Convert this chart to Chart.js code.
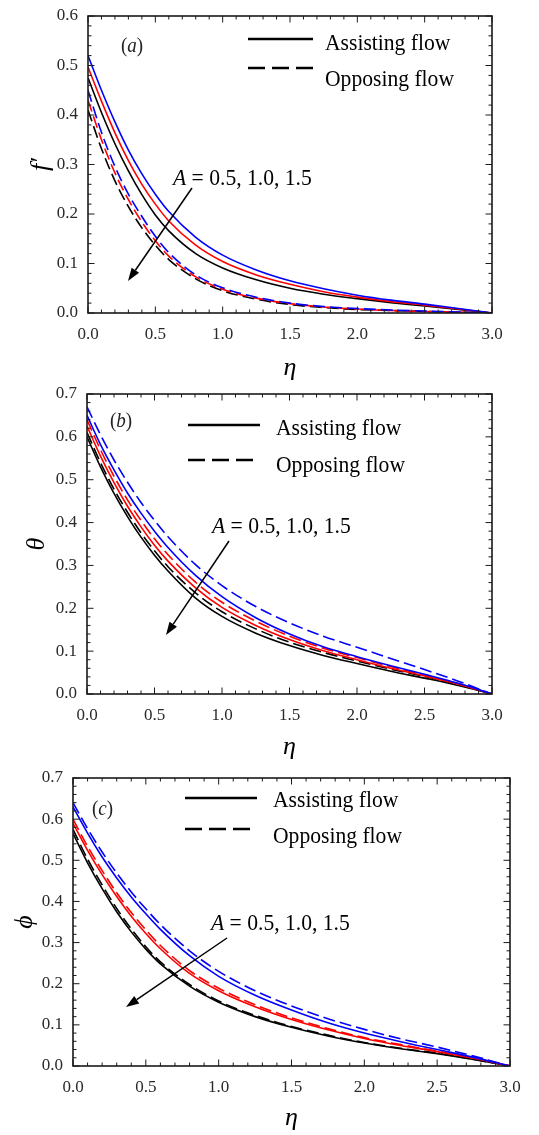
<!DOCTYPE html>
<html>
<head>
<meta charset="utf-8">
<script src="https://cdn.jsdelivr.net/npm/chart.js@4.4.1/dist/chart.umd.min.js"></script>
<style>
  html, body { margin: 0; padding: 0; background: #fff; }
  body { width: 539px; height: 1135px; position: relative; overflow: hidden; }
  .panel { position: absolute; left: 0; width: 539px; }
</style>
</head>
<body>
<div class="panel" style="top:0;height:390px"><canvas id="pa"></canvas></div>
<div class="panel" style="top:375px;height:390px"><canvas id="pb"></canvas></div>
<div class="panel" style="top:760px;height:375px"><canvas id="pc"></canvas></div>
<script>
// similarity variable
const eta = [0, 0.1, 0.2, 0.3, 0.4, 0.5, 0.6, 0.8, 1.0, 1.25, 1.5, 1.75, 2.0, 2.25, 2.5, 2.75, 3.0];

// (a) velocity f'  -- blue A=0.5, red A=1.0, black A=1.5
const fAsBlue  = [0.52, 0.45, 0.386, 0.329, 0.281, 0.24, 0.205, 0.153, 0.117, 0.087, 0.065, 0.049, 0.036, 0.026, 0.018, 0.009, 0];
const fAsRed   = [0.497, 0.428, 0.364, 0.308, 0.26, 0.22, 0.186, 0.137, 0.104, 0.077, 0.058, 0.043, 0.032, 0.023, 0.016, 0.008, 0];
const fAsBlack = [0.475, 0.405, 0.342, 0.287, 0.239, 0.198, 0.166, 0.12, 0.091, 0.067, 0.05, 0.038, 0.029, 0.021, 0.014, 0.007, 0];
const fOpBlue  = [0.45, 0.365, 0.296, 0.24, 0.195, 0.155, 0.122, 0.077, 0.051, 0.032, 0.02, 0.013, 0.009, 0.006, 0.004, 0.002, 0];
const fOpRed   = [0.43, 0.35, 0.283, 0.229, 0.184, 0.146, 0.115, 0.073, 0.048, 0.03, 0.019, 0.012, 0.008, 0.005, 0.003, 0.002, 0];
const fOpBlack = [0.41, 0.332, 0.267, 0.215, 0.172, 0.137, 0.108, 0.069, 0.045, 0.028, 0.017, 0.011, 0.007, 0.005, 0.003, 0.001, 0];

// (b) temperature theta
const thAsBlue  = [0.65, 0.582, 0.523, 0.469, 0.422, 0.38, 0.342, 0.278, 0.227, 0.178, 0.14, 0.11, 0.087, 0.066, 0.046, 0.025, 0];
const thAsRed   = [0.625, 0.555, 0.493, 0.438, 0.39, 0.347, 0.31, 0.249, 0.202, 0.16, 0.127, 0.101, 0.08, 0.06, 0.042, 0.023, 0];
const thAsBlack = [0.60, 0.53, 0.468, 0.414, 0.366, 0.324, 0.287, 0.225, 0.181, 0.142, 0.113, 0.09, 0.071, 0.053, 0.037, 0.02, 0];
const thOpBlue  = [0.67, 0.605, 0.546, 0.494, 0.447, 0.405, 0.367, 0.303, 0.253, 0.204, 0.166, 0.135, 0.109, 0.083, 0.057, 0.03, 0];
const thOpRed   = [0.64, 0.57, 0.508, 0.453, 0.405, 0.362, 0.325, 0.262, 0.214, 0.17, 0.135, 0.107, 0.085, 0.064, 0.044, 0.024, 0];
const thOpBlack = [0.61, 0.54, 0.478, 0.424, 0.376, 0.334, 0.297, 0.237, 0.192, 0.152, 0.121, 0.097, 0.077, 0.058, 0.041, 0.022, 0];

// (c) concentration phi
const phAsBlue  = [0.63, 0.566, 0.508, 0.457, 0.411, 0.37, 0.332, 0.268, 0.218, 0.172, 0.136, 0.105, 0.08, 0.059, 0.04, 0.021, 0];
const phAsRed   = [0.59, 0.524, 0.465, 0.412, 0.364, 0.322, 0.285, 0.225, 0.183, 0.144, 0.113, 0.088, 0.067, 0.05, 0.035, 0.019, 0];
const phAsBlack = [0.565, 0.494, 0.431, 0.375, 0.326, 0.284, 0.248, 0.194, 0.155, 0.12, 0.094, 0.073, 0.056, 0.042, 0.03, 0.016, 0];
const phOpBlue  = [0.64, 0.577, 0.52, 0.469, 0.423, 0.382, 0.344, 0.28, 0.23, 0.183, 0.146, 0.115, 0.089, 0.066, 0.046, 0.024, 0];
const phOpRed   = [0.60, 0.534, 0.475, 0.421, 0.373, 0.331, 0.293, 0.232, 0.189, 0.149, 0.117, 0.091, 0.069, 0.052, 0.036, 0.019, 0];
const phOpBlack = [0.575, 0.503, 0.44, 0.383, 0.333, 0.29, 0.253, 0.198, 0.158, 0.123, 0.096, 0.075, 0.057, 0.043, 0.031, 0.016, 0];

const legendLabels = ['Assisting flow', 'Opposing flow'];
const paramLabel = ['A', ' = 0.5, 1.0, 1.5'];

const SERIF = "'Liberation Serif', 'Times New Roman', serif";
const BLUE = '#0000ff', RED = '#ff0000', BLACK = '#000000';

function pts(arr) {
  return eta.map((x, i) => ({ x: x, y: arr[i] }));
}

function line(data, color, dashed) {
  return {
    data: pts(data),
    borderColor: color,
    borderWidth: 1.6,
    borderDash: dashed ? [12, 5] : [],
    pointRadius: 0,
    fill: false,
    cubicInterpolationMode: 'monotone'
  };
}

function drawText(ctx, parts, x, y, size, sx) {
  // parts: [text, italic]
  ctx.save();
  ctx.translate(x, y);
  ctx.scale(sx, 1);
  let cx = 0;
  parts.forEach(([t, it]) => {
    ctx.font = (it ? 'italic ' : '') + size + 'px ' + SERIF;
    ctx.fillText(t, cx, 0);
    cx += ctx.measureText(t).width;
  });
  ctx.restore();
}

function arrow(ctx, x1, y1, x2, y2) {
  const ang = Math.atan2(y2 - y1, x2 - x1);
  const hl = 13, hw = 4.5;
  const bx = x2 - hl * Math.cos(ang), by = y2 - hl * Math.sin(ang);
  ctx.lineWidth = 1.5;
  ctx.beginPath();
  ctx.moveTo(x1, y1);
  ctx.lineTo(bx, by);
  ctx.stroke();
  ctx.beginPath();
  ctx.moveTo(x2, y2);
  ctx.lineTo(bx + hw * Math.sin(ang), by - hw * Math.cos(ang));
  ctx.lineTo(bx - hw * Math.sin(ang), by + hw * Math.cos(ang));
  ctx.closePath();
  ctx.fill();
}

// frame, inward ticks, legend and labels
const overlay = {
  id: 'overlay',
  afterDraw(chart, args, o) {
    const { ctx, chartArea: a } = chart;
    const xs = chart.scales.x, ys = chart.scales.y;
    ctx.save();
    ctx.strokeStyle = '#1a1a1a';
    ctx.fillStyle = '#000';
    ctx.lineWidth = 1;
    ctx.beginPath();
    for (let i = 0; i <= 30; i++) {
      const px = xs.getPixelForValue(i / 10);
      const len = i % 5 === 0 ? 6.5 : 3.5;
      ctx.moveTo(px, a.bottom); ctx.lineTo(px, a.bottom - len);
      ctx.moveTo(px, a.top); ctx.lineTo(px, a.top + len);
    }
    const n = Math.round(o.ymax / 0.02);
    for (let i = 0; i <= n; i++) {
      const py = ys.getPixelForValue(i * 0.02);
      const len = i % 5 === 0 ? 6.5 : 3.5;
      ctx.moveTo(a.left, py); ctx.lineTo(a.left + len, py);
      ctx.moveTo(a.right, py); ctx.lineTo(a.right - len, py);
    }
    ctx.stroke();
    ctx.lineWidth = 1.6;
    ctx.strokeRect(a.left, a.top, a.right - a.left, a.bottom - a.top);

    // panel tag
    ctx.fillStyle = '#222';
    drawText(ctx, [['(', false], [o.tag, true], [')', false]], o.tagX, o.tagY, 20, 0.95);

    // legend
    ctx.strokeStyle = '#000';
    ctx.lineWidth = 2.4;
    ctx.setLineDash([]);
    ctx.beginPath();
    ctx.moveTo(o.legX1, o.legY1); ctx.lineTo(o.legX2, o.legY1);
    ctx.stroke();
    ctx.setLineDash([17, 7]);
    ctx.beginPath();
    ctx.moveTo(o.legX1, o.legY2); ctx.lineTo(o.legX2, o.legY2);
    ctx.stroke();
    ctx.setLineDash([]);
    ctx.fillStyle = '#000';
    drawText(ctx, [[legendLabels[0], false]], o.legTX, o.legTY1, 24, 0.9);
    drawText(ctx, [[legendLabels[1], false]], o.legTX, o.legTY2, 24, 0.9);

    // parameter label and arrow
    drawText(ctx, [[paramLabel[0], true], [paramLabel[1], false]], o.parX, o.parY, 24, 0.9);
    arrow(ctx, o.arr[0], o.arr[1], o.arr[2], o.arr[3]);
    ctx.restore();
  }
};

function makePanel(id, cfg) {
  const datasets = [
    line(cfg.asBlue, BLUE, false), line(cfg.asRed, RED, false), line(cfg.asBlack, BLACK, false),
    line(cfg.opBlue, BLUE, true), line(cfg.opRed, RED, true), line(cfg.opBlack, BLACK, true)
  ];
  return new Chart(document.getElementById(id), {
    type: 'line',
    data: { datasets },
    options: {
      responsive: true,
      maintainAspectRatio: false,
      animation: false,
      layout: { padding: { top: cfg.padTop, right: cfg.padRight, left: 0, bottom: 0 } },
      plugins: {
        legend: { display: false },
        tooltip: { enabled: false },
        overlay: cfg.overlay
      },
      scales: {
        x: {
          type: 'linear', min: 0, max: 3,
          grid: { display: false },
          border: { display: false },
          ticks: {
            stepSize: 0.5, padding: 3, color: '#2a2a2a',
            font: { family: SERIF, size: 17 },
            callback: v => v.toFixed(1),
            maxRotation: 0
          },
          title: {
            display: true, text: 'η', color: '#000',
            font: { family: SERIF, size: 26, style: 'italic', lineHeight: 1 },
            padding: { top: 0, bottom: cfg.xTitlePad }
          },
          afterFit: s => { s.height = cfg.xHeight; }
        },
        y: {
          type: 'linear', min: 0, max: cfg.ymax,
          grid: { display: false },
          border: { display: false },
          ticks: {
            stepSize: 0.1, padding: 2, color: '#2a2a2a',
            font: { family: SERIF, size: 17 },
            callback: v => v.toFixed(1)
          },
          title: {
            display: true, text: cfg.yTitle, color: '#000',
            font: { family: SERIF, size: 26, style: 'italic', lineHeight: 1 },
            padding: { top: cfg.yTitlePad, bottom: 0 }
          },
          afterFit: s => { s.width = cfg.yWidth; }
        }
      }
    },
    plugins: [overlay]
  });
}

makePanel('pa', {
  asBlue: fAsBlue, asRed: fAsRed, asBlack: fAsBlack,
  opBlue: fOpBlue, opRed: fOpRed, opBlack: fOpBlack,
  ymax: 0.6, yTitle: 'f′',
  padTop: 16, padRight: 47, yWidth: 88, xHeight: 77,
  xTitlePad: 9, yTitlePad: 28,
  overlay: {
    ymax: 0.6, tag: 'a', tagX: 121, tagY: 52,
    legX1: 248, legX2: 313, legY1: 39, legY2: 68,
    legTX: 325, legTY1: 50, legTY2: 86,
    parX: 173, parY: 185, arr: [192, 188, 128, 281]
  }
});

makePanel('pb', {
  asBlue: thAsBlue, asRed: thAsRed, asBlack: thAsBlack,
  opBlue: thOpBlue, opRed: thOpRed, opBlack: thOpBlack,
  ymax: 0.7, yTitle: 'θ',
  padTop: 19, padRight: 47, yWidth: 87, xHeight: 71,
  xTitlePad: 5, yTitlePad: 24,
  overlay: {
    ymax: 0.7, tag: 'b', tagX: 110, tagY: 52,
    legX1: 188, legX2: 260, legY1: 50, legY2: 85,
    legTX: 276, legTY1: 60, legTY2: 97,
    parX: 212, parY: 158, arr: [229, 166, 166, 260]
  }
});

makePanel('pc', {
  asBlue: phAsBlue, asRed: phAsRed, asBlack: phAsBlack,
  opBlue: phOpBlue, opRed: phOpRed, opBlack: phOpBlack,
  ymax: 0.7, yTitle: 'ϕ',
  padTop: 18, padRight: 29, yWidth: 73, xHeight: 69,
  xTitlePad: 4, yTitlePad: 12,
  overlay: {
    ymax: 0.7, tag: 'c', tagX: 92, tagY: 55,
    legX1: 185, legX2: 257, legY1: 38, legY2: 69,
    legTX: 273, legTY1: 47, legTY2: 83,
    parX: 211, parY: 170, arr: [227, 178, 126, 247]
  }
});
</script>
</body>
</html>
